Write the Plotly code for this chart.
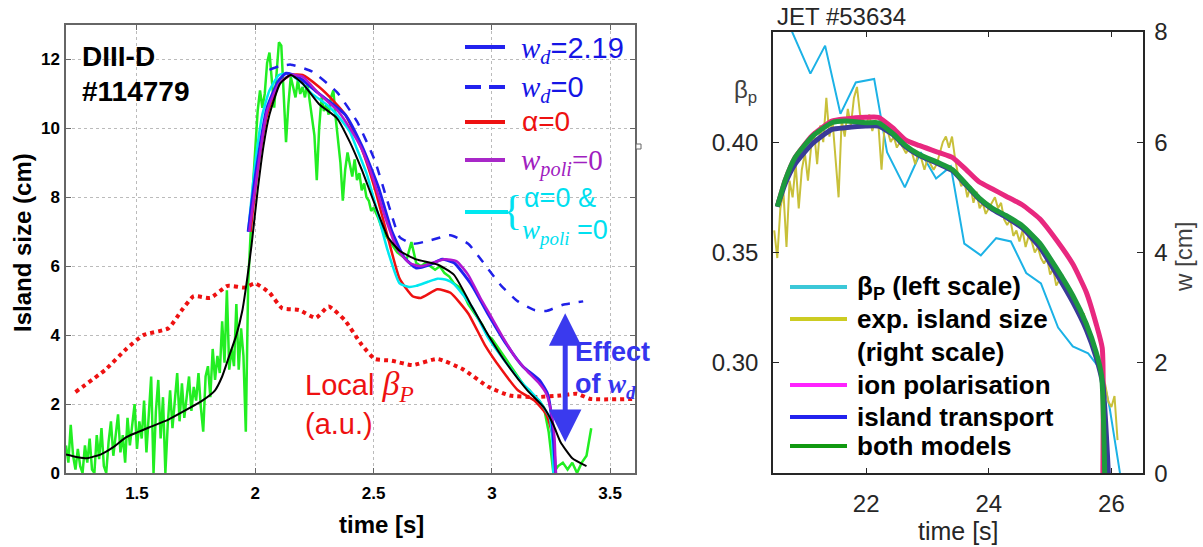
import plotly.graph_objects as go

W, H = 1203, 547
def PX(x): return x / W
def PY(y): return 1 - y / H

# ---------------- Left panel (DIII-D) data ----------------
green1_vals = [0.8,0.3,1.4,0.5,0.1,0.7,0.2,0.0,0.8,0.3,1.0,0.1,0.0,1.1,0.4,1.3,0.2,0.0,0.9,1.5,
               0.5,1.2,1.7,0.6,1.1,0.3,1.6,0.8,1.4,2.0,0.7,1.5,1.0,2.1,0.6,1.7,2.8,0.0,1.8,2.7,
               1.0,2.2,0.0,1.4,2.4,1.3,2.0,2.9,1.5,2.6,1.6,2.3,2.8,1.8,2.5,2.1,2.9,1.9,1.2,2.8,
               3.1,2.2,3.6,2.7,3.4,2.9,4.4,3.2,5.3,3.0,3.6,3.1,4.9,3.0,4.2,3.4,1.2,5.5]
green1_t = [round(1.20 + 0.01 * i, 3) for i in range(len(green1_vals))]
green2_vals = [7.0,8.3,9.4,10.5,11.1,10.6,11.0,11.9,12.2,11.4,10.6,11.6,12.5,12.4,10.8,9.6,10.7,11.5,
               11.2,10.9,11.4,11.0,11.2,10.9,11.3,10.8,10.4,9.8,8.5,10.0,10.9,10.5,10.7,10.4,10.9,11.1,
               10.3,9.6,9.0,7.9,8.8,9.3,8.9,8.6,9.1,8.5,8.7,8.2,8.4,8.0,7.9,7.6,7.7]
green2_t = [round(1.98 + 0.01 * i, 3) for i in range(len(green2_vals))]
green3_vals = [7.4,7.0,6.8,6.6,6.4,6.3,6.2,6.7,6.1,6.0,6.1,6.0,5.9,6.0,5.8,5.7,5.5,5.4,5.2,4.9,
               4.7,4.5,4.3,4.0,3.9,3.7,3.5,3.3,3.1,2.9,2.7,2.5,2.4,2.2,2.1,1.9,1.2,0.0,0.2,0.3,
               0.1,0.3,0.0,0.3,0.5,1.3]
green3_t = [round(2.52 + 0.02 * i, 3) for i in range(len(green3_vals))]
exp_t = green1_t + green2_t + green3_t
exp_w = green1_vals + green2_vals + green3_vals

black_t = [1.2,1.25,1.29,1.35,1.4,1.455,1.55,1.633,1.7,1.776,1.83,1.86,1.89,1.92,1.945,1.965,1.984,
           2.01,2.035,2.06,2.105,2.15,2.2,2.27,2.345,2.4,2.45,2.505,2.56,2.61,2.68,2.77,2.84,2.91,
           2.985,3.06,3.15,3.22,3.26,3.29,3.34,3.4]
black_w = [0.54,0.46,0.43,0.55,0.75,1.04,1.32,1.55,1.8,2.1,2.4,2.8,3.4,4.0,4.7,5.6,6.6,
           8.2,9.5,10.4,11.3,11.55,11.3,10.7,10.3,9.6,8.8,7.8,6.85,6.45,6.2,6.05,5.75,4.9,
           4.0,3.2,2.4,1.9,1.4,0.9,0.43,0.2]

blue_t = [1.97,2.0,2.05,2.1,2.13,2.18,2.27,2.38,2.45,2.52,2.575,2.63,2.68,2.74,2.79,2.84,2.915,
          2.985,3.06,3.13,3.2,3.235,3.253,3.265,3.27]
blue_w = [7.0,8.6,10.6,11.4,11.6,11.5,11.0,10.4,9.5,8.3,7.05,6.25,5.95,6.05,6.2,6.1,5.45,
          4.6,3.75,3.1,2.7,2.3,1.6,0.5,0.0]

dash_t = [2.06,2.1,2.15,2.24,2.345,2.43,2.505,2.56,2.61,2.665,2.74,2.825,2.9,2.97,3.04,3.11,
          3.18,3.23,3.3,3.386]
dash_w = [11.7,11.8,11.85,11.65,11.05,10.2,9.07,7.86,6.85,6.65,6.75,6.9,6.65,6.05,5.43,4.98,
          4.73,4.70,4.88,4.98]

red_t = [1.98,2.01,2.05,2.1,2.15,2.2,2.27,2.33,2.38,2.45,2.505,2.56,2.61,2.665,2.7,2.77,2.825,
         2.9,2.97,3.04,3.11,3.18,3.23,3.26,3.265]
red_w = [7.0,8.8,10.4,11.3,11.55,11.55,11.2,10.8,10.4,9.4,8.26,6.85,5.64,5.13,5.08,5.33,5.23,
         4.63,3.72,3.01,2.4,2.1,1.7,1.0,0.0]

mag_t = [1.975,2.05,2.1,2.15,2.2,2.27,2.35,2.4,2.45,2.5,2.55,2.6,2.65,2.7,2.75,2.8,2.85,2.9,
         2.95,3.0,3.05,3.1,3.15,3.2,3.23,3.25,3.265,3.27]
mag_w = [7.0,10.5,11.3,11.55,11.5,11.0,10.5,10.0,9.4,8.5,7.4,6.5,6.1,6.0,6.1,6.2,6.15,5.75,
         5.1,4.5,3.9,3.35,2.95,2.6,2.3,1.8,1.0,0.0]

cyan_t = [1.97,2.0,2.03,2.06,2.1,2.14,2.2,2.24,2.3,2.345,2.4,2.43,2.47,2.505,2.56,2.61,2.65,
          2.68,2.73,2.77,2.81,2.84,2.915,2.985,3.06,3.13,3.2,3.245,3.255,3.26]
cyan_w = [7.0,9.0,10.4,11.1,11.55,11.6,11.3,11.0,10.7,10.4,9.9,9.4,8.7,7.86,6.45,5.5,5.4,
          5.43,5.55,5.64,5.6,5.48,4.83,3.92,3.2,2.6,2.1,1.6,1.0,0.0]

beta_t = [1.24,1.367,1.455,1.527,1.633,1.687,1.74,1.81,1.883,1.954,2.0,2.06,2.114,2.185,2.256,
          2.31,2.38,2.45,2.505,2.576,2.665,2.77,2.88,2.985,3.075,3.18,3.29,3.36,3.416,3.6]
beta_v = [2.35,3.0,3.6,4.0,4.2,4.7,5.13,5.08,5.43,5.38,5.5,5.23,4.78,4.73,4.5,
          4.83,4.42,3.72,3.31,3.26,3.13,3.31,3.0,2.5,2.25,2.2,2.25,2.3,2.15,2.15]

left_xticks = [1.5, 2, 2.5, 3, 3.5]
left_xtext = ["1.5", "2", "2.5", "3", "3.5"]
left_yticks = [0, 2, 4, 6, 8, 10, 12]

# ---------------- Right panel (JET) data ----------------
bp_t = [20.5,20.79,21.09,21.33,21.58,21.83,22.13,22.34,22.63,22.89,23.14,23.38,23.6,23.87,24.12,
        24.36,24.61,24.85,25.13,25.37,25.62,25.84,25.97,26.14]
bp_v = [0.47,0.45,0.431,0.4437,0.4128,0.427,0.4286,0.3954,0.3795,0.3954,0.3835,0.389,0.354,
        0.3487,0.3565,0.355,0.3407,0.336,0.316,0.3075,0.3043,0.2964,0.2798,0.25]

jexp_vals = [4.4,3.9,4.8,5.1,4.1,5.3,5.0,5.6,4.8,5.5,5.8,5.3,5.9,6.2,5.6,6.3,6.0,6.8,6.1,6.4,
             5.7,5.0,6.4,6.1,6.6,6.3,6.8,7.0,6.5,6.4,6.3,6.5,6.2,6.4,6.3,5.5,6.3,6.2,6.0,6.1,
             5.9,6.0,5.9,5.8,5.9,5.8,5.6,5.8,5.7,5.5,5.7,5.6,5.5,5.6,5.8,6.0,6.1,5.9,6.1,5.7,
             5.4,5.2,5.3,5.0,5.2,4.9,5.1,4.8,4.9,4.7,4.8,4.9,5.0,4.8,4.9,4.6,4.5,4.6,4.3,4.4,
             4.2,4.4,4.1,4.3,4.2,4.0,4.1,3.9,3.8,3.9,3.6,3.7,3.4,3.5,3.6,3.3,3.4,3.2,3.0,3.1,
             2.8,2.9,2.6,2.5,2.3,2.2,2.0,1.8,1.6,1.3,1.2,1.4,0.6]
jexp_t = [round(20.50 + 0.05 * i, 3) for i in range(len(jexp_vals))]

both_t = [20.55,20.68,20.84,21.12,21.44,21.66,21.99,22.2,22.43,22.64,22.86,23.19,23.41,23.63,
          23.84,24.06,24.28,24.55,24.83,25.1,25.37,25.59,25.75,25.84,25.89]
both_w = [4.83,5.31,5.72,6.1,6.35,6.38,6.35,6.35,6.16,5.94,5.78,5.62,5.5,5.24,
          4.99,4.8,4.67,4.48,4.17,3.72,3.22,2.71,2.2,1.76,0.0]

trans_t = [20.55,20.68,20.84,21.12,21.44,21.66,21.99,22.2,22.43,22.64,22.86,23.19,23.41,23.63,
           23.84,24.06,24.28,24.55,24.83,25.1,25.37,25.59,25.75,25.86,25.95]
trans_w = [4.83,5.25,5.6,5.97,6.23,6.26,6.29,6.29,6.14,5.92,5.76,5.6,5.48,5.22,
           4.97,4.78,4.64,4.44,4.1,3.62,3.1,2.6,2.1,1.6,0.0]

ion_t = [20.55,20.68,20.84,21.12,21.44,21.66,21.99,22.2,22.43,22.64,22.86,23.19,23.41,23.63,
         23.84,24.06,24.28,24.55,24.83,25.1,25.37,25.59,25.75,25.85,25.86]
ion_w = [4.83,5.31,5.72,6.12,6.38,6.42,6.45,6.45,6.26,6.04,5.94,5.81,5.72,5.5,
         5.28,5.15,5.02,4.86,4.61,4.23,3.79,3.28,2.71,2.27,0.0]

right_xticks = [22, 24, 26]
beta_ticks = [0.30, 0.35, 0.40]
beta_text = ["0.30", "0.35", "0.40"]
w_ticks = [0, 2, 4, 6, 8]

# ---------------- Figure ----------------
fig = go.Figure()
sp = dict(shape="spline", smoothing=0.5)

def add(x, y, xa, ya, **line):
    fig.add_trace(go.Scatter(x=x, y=y, mode="lines", line=line, xaxis=xa, yaxis=ya,
                             showlegend=False, hoverinfo="skip"))

# left panel traces
add(exp_t, exp_w, "x", "y", color="#22ee22", width=2.5)
add(beta_t, beta_v, "x", "y", color="#ee1111", width=4, dash="dot", **sp)
add(dash_t, dash_w, "x", "y", color="#2020e8", width=2.5, dash="dash", **sp)
add(red_t, red_w, "x", "y", color="#ee1111", width=2.5, **sp)
add(cyan_t, cyan_w, "x", "y", color="#00e8f0", width=2.5, **sp)
add(blue_t, blue_w, "x", "y", color="#2020f0", width=3, **sp)
add(mag_t, mag_w, "x", "y", color="#b018d0", width=2.5, **sp)
add(black_t, black_w, "x", "y", color="#000000", width=2, **sp)

# right panel traces
add(jexp_t, jexp_vals, "x2", "y3", color="#c8c03a", width=2)
add(ion_t, ion_w, "x2", "y3", color="#e8287f", width=5, **sp)
add(trans_t, trans_w, "x2", "y3", color="#3a3a98", width=5, **sp)
add(both_t, both_w, "x2", "y3", color="#1c9a3c", width=5, **sp)
add(bp_t, bp_v, "x2", "y2", color="#1cb2e6", width=2)

left_axis = dict(showline=True, linecolor="#666666", linewidth=1.5, mirror="ticks", ticks="inside",
                 ticklen=5, tickcolor="#666666", showgrid=True, gridcolor="#bbbbbb", griddash="dot",
                 gridwidth=1, zeroline=False, automargin=False,
                 tickfont=dict(family="Liberation Sans", size=17, color="#000000", weight="bold"))
right_axis = dict(showline=True, linecolor="#262626", linewidth=1.5, ticks="inside", ticklen=6,
                  tickcolor="#262626", showgrid=False, zeroline=False, automargin=False,
                  tickfont=dict(family="Liberation Sans", size=24, color="#262626"))

fig.update_layout(
    template="none", autosize=False,
    width=W, height=H, margin=dict(l=0, r=0, t=0, b=0, pad=0, autoexpand=False),
    paper_bgcolor="white", plot_bgcolor="white", showlegend=False,
    font=dict(family="Liberation Sans"),
    xaxis=dict(domain=[PX(66), PX(635)], range=[1.2, 3.605], tickvals=left_xticks, ticktext=left_xtext,
               anchor="y", ticklabelstandoff=4, **left_axis),
    yaxis=dict(domain=[PY(473), PY(25)], range=[0, 13], tickvals=left_yticks, anchor="x",
               ticklabelstandoff=1, **left_axis),
    xaxis2=dict(domain=[PX(773), PX(1142.7)], range=[20.48, 26.51], tickvals=right_xticks,
                anchor="y2", mirror="ticks", ticklabelstandoff=8, **right_axis),
    yaxis2=dict(domain=[PY(473.3), PY(31.7)], range=[0.25, 0.45], tickvals=beta_ticks, ticktext=beta_text,
                anchor="x2", ticklabelstandoff=8, **right_axis),
    yaxis3=dict(range=[0, 8], tickvals=w_ticks, overlaying="y2", side="right", anchor="x2",
                ticklabelstandoff=5, **right_axis),
)

ann = []
def T(x, y, text, size, color="#000000", bold=False, xanchor="left", family="Liberation Sans", angle=0):
    ann.append(dict(x=PX(x), y=PY(y), xref="paper", yref="paper", text=text, showarrow=False,
                    xanchor=xanchor, yanchor="middle", textangle=angle,
                    font=dict(family=family, size=size, color=color, weight="bold" if bold else "normal")))

SERIF = '<span style="font-family:Liberation Serif">'
SERIFB = '<span style="font-family:Liberation Serif;font-size:34px">'
# Left panel texts
T(80, 56, "DIII-D", 28, bold=True)
T(80, 91, "#114779", 28, bold=True)
T(22, 243, "Island size (cm)", 24, bold=True, xanchor="center", angle=-90)
T(381, 524, "time [s]", 24, bold=True, xanchor="center")
T(519, 50, SERIF + "<i>w</i></span><sub>" + SERIF + "<i>d</i></span></sub>=2.19", 29, color="#1515e5")
T(519, 89, SERIF + "<i>w</i></span><sub>" + SERIF + "<i>d</i></span></sub>=0", 29, color="#1515e5")
T(520, 122, "α=0", 28, color="#ee1111")
T(519, 162, SERIF + "<i>w</i><sub><i>poli</i></sub>=0</span>", 29, color="#a020c0")
T(512, 210, "{", 42, color="#00e0f0", family="Liberation Serif", xanchor="center")
T(522, 198, "α=0 &", 27, color="#00e0f0")
T(520, 232, SERIF + "<i>w</i><sub><i>poli</i></sub></span> =0", 27, color="#00e0f0")
T(303, 386, "Local " + SERIFB + "<i>β</i><sub><i>P</i></sub></span>", 29, color="#ee1111")
T(303, 424, "(a.u.)", 29, color="#ee1111")
T(573, 352, "Effect", 27, color="#3535ee", bold=True)
T(573, 386, "of " + SERIF + "<i>w</i></span><sub>" + SERIF + "<i>d</i></span></sub>", 27, color="#3535ee", bold=True)

# Right panel texts
T(775, 17, "JET #53634", 24, color="#262626")
T(745, 91, "β<sub>p</sub>", 24, color="#404040", xanchor="center")
T(958, 531, "time [s]", 25, color="#262626", xanchor="center")
T(1183, 257, "w [cm]", 24, color="#404040", xanchor="center", angle=-90)
leg_y = [287, 319, 385, 417, 446]
leg_text = ["β<sub>P</sub> (left scale)", "exp. island size", "ion polarisation", "island transport", "both models"]
for yy, tt in zip(leg_y, leg_text):
    T(855, yy, tt, 26, bold=True)
T(855, 352, "(right scale)", 26, bold=True)

# Blue double arrow (data coordinates)
ann.append(dict(x=3.31, y=0.9, ax=3.31, ay=4.68, xref="x", yref="y", axref="x", ayref="y", text="",
                showarrow=True, arrowside="end+start", arrowhead=2, arrowsize=1.3, arrowwidth=5,
                arrowcolor="#3a3aee", standoff=0, startstandoff=0))
fig.update_layout(annotations=ann)

shapes = []
def L(x0, x1, y, color, width=4, dash="solid"):
    shapes.append(dict(type="line", xref="paper", yref="paper", x0=PX(x0), x1=PX(x1), y0=PY(y), y1=PY(y),
                       line=dict(color=color, width=width, dash=dash)))
L(465, 505, 47, "#2222ee")
L(465, 505, 87, "#2222ee", dash="16px,8px")
L(465, 505, 122, "#ee1111")
L(465, 505, 160, "#a828c8")
L(465, 508, 212, "#00e8f0")
right_leg_colors = ["#3cc8d8", "#cccc22", "#ff22ff", "#2222ee", "#119911"]
for yy, cc in zip(leg_y, right_leg_colors):
    L(790, 847, yy, cc, width=4)
shapes.append(dict(type="rect", xref="paper", yref="paper", x0=PX(636), x1=PX(641), y0=PY(144), y1=PY(149),
                   line=dict(color="#666666", width=1), fillcolor="white"))
fig.update_layout(shapes=shapes)

fig.write_html("out.html", config={"displayModeBar": False, "responsive": False},
               post_script="document.body.style.margin='0';document.body.style.padding='0';"
                           "document.body.style.overflow='hidden';")
